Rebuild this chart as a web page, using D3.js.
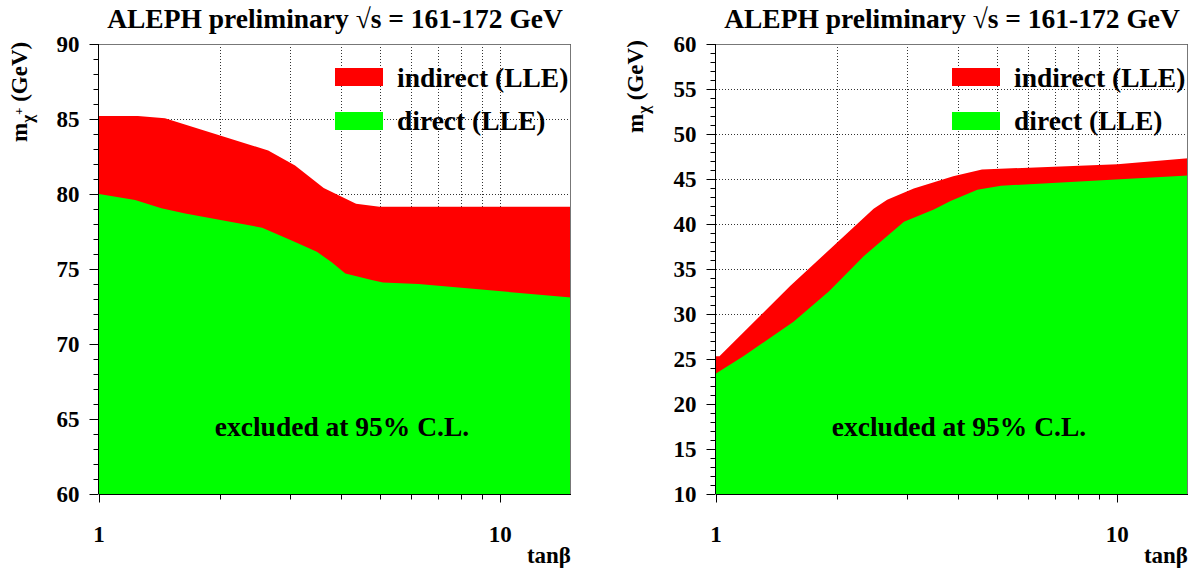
<!DOCTYPE html>
<html>
<head>
<meta charset="utf-8">
<script src="https://cdn.jsdelivr.net/npm/d3@7"></script>
<style>
  html, body { margin: 0; padding: 0; background: #fff; }
  svg { display: block; }
  text { font-family: "Liberation Serif", "Times New Roman", serif; font-weight: bold; fill: #000; }
</style>
</head>
<body>
<svg id="chart" width="1197" height="574"></svg>
<script>
// ---- data: exclusion boundaries vs tan(beta) ----
// chargino mass limits (left panel)
const charginoIndirectTanB = [1, 1.25, 1.46, 2.64, 3.08, 3.63, 4.37, 5.0, 15];
const charginoIndirectMass = [85.2, 85.2, 85.05, 82.9, 81.9, 80.4, 79.35, 79.15, 79.15];
const charginoDirectTanB   = [1, 1.23, 1.43, 1.64, 2.55, 3.02, 3.49, 3.80, 4.11, 4.78, 5.1, 6.25, 15];
const charginoDirectMass   = [80.0, 79.6, 79.05, 78.7, 77.75, 76.9, 76.15, 75.45, 74.7, 74.27, 74.1, 74.0, 73.1];

// neutralino mass limits (right panel)
const neutralinoIndirectTanB = [1, 1.02, 1.53, 2.47, 2.67, 3.11, 3.9, 4.6, 10, 15];
const neutralinoIndirectMass = [25.3, 25.3, 33.1, 41.7, 42.7, 43.95, 45.3, 46.05, 46.65, 47.3];
const neutralinoDirectTanB   = [1, 1.17, 1.56, 1.91, 2.33, 2.94, 3.49, 3.84, 4.48, 5.13, 15];
const neutralinoDirectMass   = [23.4, 25.3, 29.15, 32.5, 36.4, 40.25, 41.6, 42.55, 43.8, 44.25, 45.4];

// axis ranges and tick labels
const tanBDomain = [1, 15];
const xTickLabels = [1, 10];
const xGridValues = [2, 3, 4, 5, 6, 7, 8, 9, 10];
const charginoYDomain = [60, 90];
const charginoYTicks = [60, 65, 70, 75, 80, 85, 90];
const neutralinoYDomain = [10, 60];
const neutralinoYTicks = [10, 15, 20, 25, 30, 35, 40, 45, 50, 55, 60];

const titleText = "ALEPH preliminary \u221As = 161-172 GeV";
const legendLabels = ["indirect (LLE)", "direct (LLE)"];
const noteText = "excluded at 95% C.L.";
const xLabel = "tan\u03B2";

const RED = "#ff0000", GREEN = "#00ff00";

const svg = d3.select("#chart");

function zip(xs, ys) { return xs.map((x, i) => [x, ys[i]]); }

function drawPanel(opt) {
  const g = svg.append("g");
  const x = d3.scaleLog().domain(tanBDomain).range([opt.left, opt.left + 472]);
  const y = d3.scaleLinear().domain(opt.yDomain).range([494, 44]);
  const [x0, x1] = x.range();
  const [yb, yt] = y.range();

  const clipId = "clip-" + opt.id;
  g.append("clipPath").attr("id", clipId)
    .append("rect").attr("x", x0).attr("y", yt).attr("width", x1 - x0).attr("height", yb - yt);

  // dotted grid
  const grid = g.append("g").attr("stroke", "#333").attr("stroke-width", 1)
    .attr("stroke-dasharray", "1,2").attr("fill", "none");
  xGridValues.forEach(v => {
    const px = Math.round(x(v)) + 0.5;
    grid.append("line").attr("x1", px).attr("x2", px).attr("y1", yt).attr("y2", yb);
  });
  opt.yTicks.forEach(v => {
    const py = Math.round(y(v)) + 0.5;
    grid.append("line").attr("x1", x0).attr("x2", x1).attr("y1", py).attr("y2", py);
  });

  // exclusion regions
  const area = d3.area().x(d => x(d[0])).y0(yb).y1(d => y(d[1]));
  const fills = g.append("g").attr("clip-path", `url(#${clipId})`);
  fills.append("path").datum(zip(opt.indirectX, opt.indirectY))
    .attr("fill", RED).attr("d", area);
  fills.append("path").datum(zip(opt.directX, opt.directY))
    .attr("fill", GREEN).attr("d", area);

  // legend
  const lx = x0 + 236;
  [[RED, 68, 87], [GREEN, 112, 130]].forEach(([c, by, ty], i) => {
    g.append("rect").attr("x", lx).attr("y", by).attr("width", 48).attr("height", 18).attr("fill", c);
    g.append("text").attr("x", lx + 62).attr("y", ty).attr("font-size", 27.5).text(legendLabels[i]);
  });

  // note inside the excluded region
  g.append("text").attr("x", x0 + opt.noteDx).attr("y", 436).attr("text-anchor", "middle")
    .attr("font-size", 27.5).text(noteText);

  // frame (top and right)
  g.append("path").attr("fill", "none").attr("stroke", "#777").attr("stroke-width", 1)
    .attr("d", `M${x0},${yt + 0.5}H${x1 - 0.5}V${yb}`);

  // y axis
  const yMinor = d3.range(opt.yDomain[0], opt.yDomain[1] + 1, 1);
  const yAxisG = g.append("g").attr("transform", `translate(${x0 - 0.5},0)`);
  yAxisG.append("line").attr("x1", 0).attr("x2", 0).attr("y1", yt).attr("y2", yb).attr("stroke", "#000");
  yMinor.forEach(v => {
    const major = v % 5 === 0;
    yAxisG.append("line").attr("x1", major ? -9 : -5).attr("x2", 0)
      .attr("y1", Math.round(y(v)) + 0.5).attr("y2", Math.round(y(v)) + 0.5)
      .attr("stroke", "#000");
  });
  opt.yTicks.forEach(v => {
    yAxisG.append("text").attr("x", -19).attr("y", y(v)).attr("dy", "0.35em")
      .attr("text-anchor", "end").attr("font-size", 23).text(v);
  });

  // x axis (log)
  const xAxisG = g.append("g").attr("transform", `translate(0,${yb + 0.5})`);
  xAxisG.append("line").attr("x1", x0).attr("x2", x1).attr("y1", 0).attr("y2", 0).attr("stroke", "#000");
  const xTicks = [1, 2, 3, 4, 5, 6, 7, 8, 9, 10];
  xTicks.forEach(v => {
    const major = v === 1 || v === 10;
    const px = Math.round(x(v)) + 0.5;
    xAxisG.append("line").attr("x1", px).attr("x2", px).attr("y1", 0).attr("y2", major ? 8 : 5)
      .attr("stroke", "#000");
  });
  xTickLabels.forEach(v => {
    xAxisG.append("text").attr("x", x(v)).attr("y", 47).attr("text-anchor", "middle")
      .attr("font-size", 23).text(v);
  });
  g.append("text").attr("x", x1).attr("y", 563).attr("text-anchor", "end")
    .attr("font-size", 23).text(xLabel);

  // title
  g.append("text").attr("x", (x0 + x1) / 2).attr("y", 28).attr("text-anchor", "middle")
    .attr("font-size", 27.5).text(titleText);

  // y label
  const yl = g.append("text").attr("font-size", 23)
    .attr("transform", `translate(${opt.yLabelX},${opt.yLabelY}) rotate(-90)`);
  yl.append("tspan").text("m");
  yl.append("tspan").attr("font-size", 17).attr("dy", 6).text("\u03C7");
  if (opt.charge) {
    yl.append("tspan").attr("font-size", 13).attr("dy", -10).text(opt.charge);
    yl.append("tspan").attr("dy", 4).text(" (GeV)");
  } else {
    yl.append("tspan").attr("dy", -6).text(" (GeV)");
  }
}

drawPanel({
  id: "chargino", left: 99, yDomain: charginoYDomain, yTicks: charginoYTicks,
  indirectX: charginoIndirectTanB, indirectY: charginoIndirectMass,
  directX: charginoDirectTanB, directY: charginoDirectMass,
  noteDx: 243, yLabelX: 27, yLabelY: 142, charge: "+"
});

drawPanel({
  id: "neutralino", left: 716, yDomain: neutralinoYDomain, yTicks: neutralinoYTicks,
  indirectX: neutralinoIndirectTanB, indirectY: neutralinoIndirectMass,
  directX: neutralinoDirectTanB, directY: neutralinoDirectMass,
  noteDx: 243, yLabelX: 643, yLabelY: 133, charge: null
});
</script>
</body>
</html>
